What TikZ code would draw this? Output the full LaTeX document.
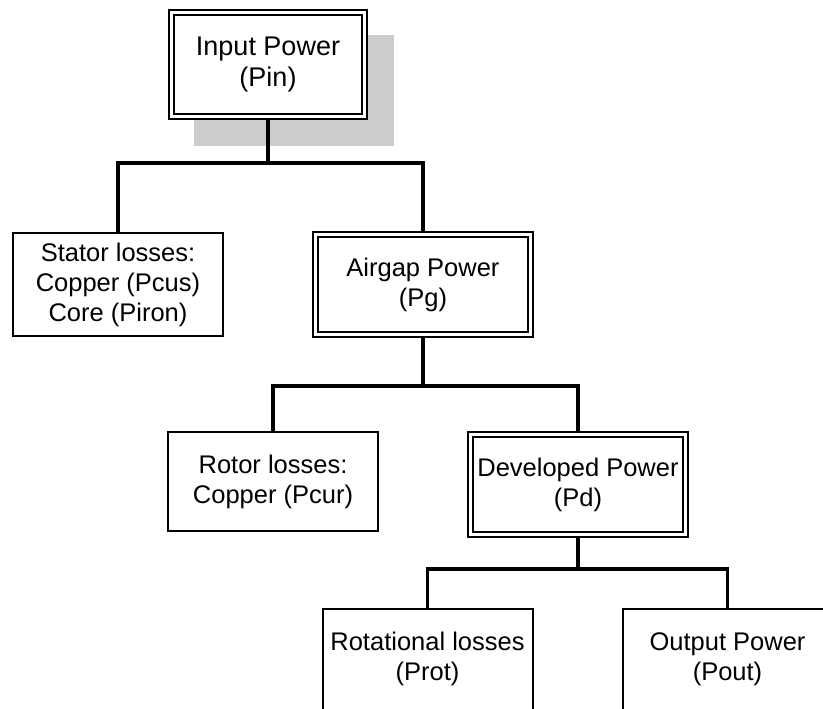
\documentclass[tikz,border=0pt]{standalone}
\usepackage{fontspec}
\setmainfont{Liberation Sans}
\usetikzlibrary{backgrounds}

\begin{document}
\begin{tikzpicture}[x = 1pt, y = -1pt,
                    font = \fontsize{25.5}{30}\selectfont,
                    box/.style     = {rectangle, draw, fill = white, line width = 2pt, minimum width = 210pt, minimum height = 103pt, inner sep = 0pt, align = center},
                    power/.style   = {box, double, double distance = 3pt, outer sep = 3.5pt, minimum width = 215pt, minimum height = 100pt},
                    openbox/.style = {box, draw = none, outer sep = 0pt, minimum height = 100pt},
                    link/.style    = {line width = 3.3pt}
                    ]
    \useasboundingbox (0, 0) rectangle (823, 709);
    \clip (0, 0) rectangle (823, 709);

    \node[power, minimum width = 193pt, minimum height = 104pt, font = \fontsize{27}{31}\selectfont] (pin) at (268, 64.5) {Input Power\\(Pin)};
    \node[box]   (stator)  at (118, 284.5)   {Stator losses:\\Copper (Pcus)\\Core (Piron)};
    \node[power] (airgap)  at (423, 284.5)   {Airgap Power\\(Pg)};
    \node[box, minimum height = 99pt] (rotor) at (273, 481.5) {Rotor losses:\\Copper (Pcur)};
    \node[power] (dev)     at (578, 484.5)   {Developed Power\\(Pd)};
    \node[openbox] (rot)   at (427.5, 659)   {Rotational losses\\(Prot)};
    \node[openbox] (pout)  at (727.5, 659)   {Output Power\\(Pout)};

    % shadow behind the input box
    \begin{scope}[on background layer]
        \fill[gray!40] ([shift = {(26pt, -26pt)}]pin.south west) rectangle ([shift = {(26pt, -26pt)}]pin.north east);
    \end{scope}

    % bottom boxes run off the page
    \draw[line width = 2pt] ([yshift = -10pt]rot.south west) |- (rot.north east) -- ([yshift = -10pt]rot.south east);
    \draw[line width = 2pt] ([yshift = -10pt]pout.south west) |- (pout.north east) -- ([yshift = -10pt]pout.south east);

    \coordinate (j1) at (268, 163);
    \coordinate (j2) at (423, 386);
    \coordinate (j3) at (578, 569);

    \draw[link] (pin.south) -- (j1) -| (stator.north);
    \draw[link] (j1) -| (airgap.north);
    \draw[link] (airgap.south) -- (j2) -| (rotor.north);
    \draw[link] (j2) -| (dev.north);
    \draw[link] (dev.south) -- (j3) -| (rot.north);
    \draw[link] (j3) -| (pout.north);
\end{tikzpicture}
\end{document}
